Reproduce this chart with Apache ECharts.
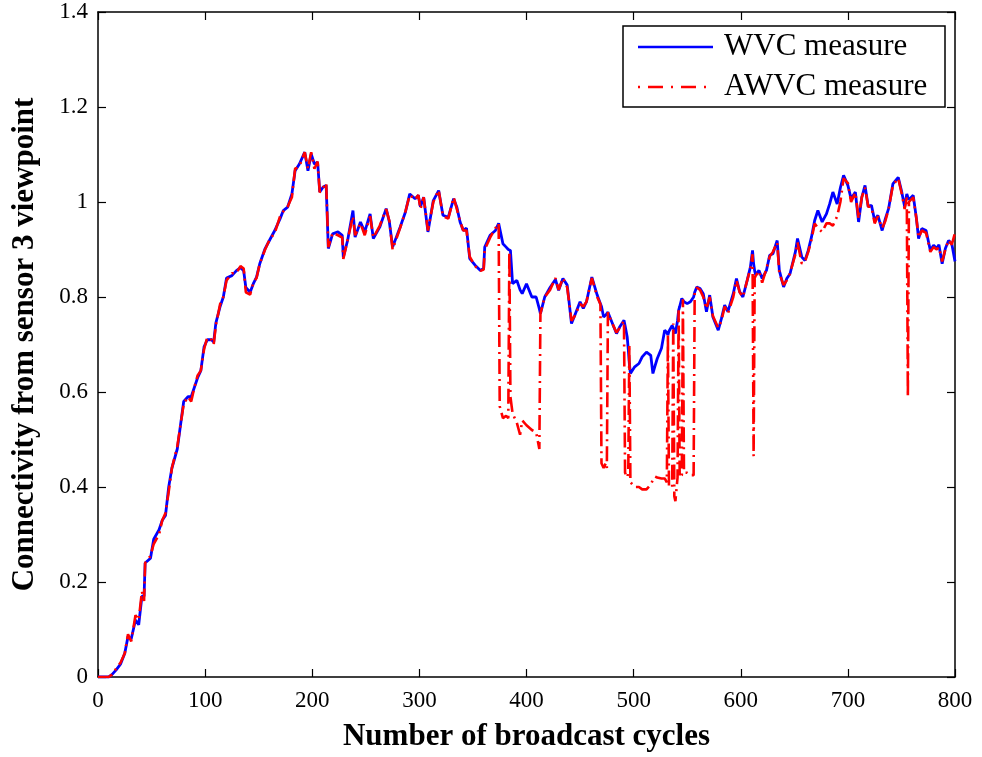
<!DOCTYPE html>
<html>
<head>
<meta charset="utf-8">
<script src="https://cdn.jsdelivr.net/npm/echarts@6/dist/echarts.min.js"></script>
<style>
  html, body { margin: 0; padding: 0; background: #fff; }
  #chart { width: 982px; height: 757px; }
</style>
</head>
<body>
<div id="chart"></div>
<script>
// broadcast cycle positions shared by both curves
const cycles = [
  0, 5, 10, 13, 17, 21, 25, 28, 31, 35, 38, 41, 43, 44, 49, 52, 57, 60, 63, 66,
  69, 74, 77, 80, 84, 87, 90, 93, 96, 99, 102, 106, 108, 110, 114, 117, 120, 125, 129, 133,
  136, 138, 142, 145, 148, 151, 156, 160, 165, 170, 173, 177, 181, 184, 188, 193, 196, 199, 202, 205,
  207, 210, 213, 215, 219, 224, 228, 229, 233, 238, 240, 245, 249, 254, 257, 263, 269, 272, 275, 282,
  287, 291, 296, 299, 301, 304, 308, 313, 318, 322, 327, 332, 335, 338, 341, 344, 347, 352, 357, 360,
  361, 366, 371, 374, 375, 378, 381, 383, 384, 385, 387, 391, 394, 396, 400, 405, 409, 412, 413, 417,
  422, 427, 430, 434, 438, 442, 445, 450, 453, 456, 461, 466, 469, 470, 472, 474, 475, 476, 479, 484,
  487, 491, 492, 494, 495, 496, 497, 501, 505, 508, 512, 516, 518, 520, 522, 526, 529, 531, 532, 533,
  536, 537, 538, 539, 541, 542, 543, 545, 546, 547, 550, 553, 556, 557, 559, 562, 565, 568, 571, 574,
  579, 582, 585, 588, 593, 596, 599, 602, 606, 609, 611, 612, 613, 614, 617, 620, 624, 627, 630, 634,
  636, 640, 643, 646, 651, 653, 657, 660, 663, 666, 669, 672, 676, 680, 683, 686, 690, 693, 696, 700,
  703, 707, 710, 713, 716, 719, 722, 725, 728, 732, 735, 738, 742, 747, 750, 753, 755, 756, 757, 758,
  761, 764, 766, 769, 773, 777, 780, 783, 785, 788, 791, 794, 797, 800
];

const wvc = [
  0, 0, 0, 0.005, 0.015, 0.027, 0.05, 0.085, 0.08, 0.12, 0.11, 0.17, 0.17, 0.24, 0.25, 0.29, 0.31, 0.33, 0.34, 0.40,
  0.44, 0.48, 0.53, 0.58, 0.59, 0.59, 0.61, 0.63, 0.645, 0.695, 0.71, 0.71, 0.705, 0.745, 0.78, 0.80, 0.84, 0.845, 0.855, 0.862,
  0.855, 0.82, 0.81, 0.828, 0.842, 0.87, 0.902, 0.919, 0.94, 0.965, 0.982, 0.989, 1.017, 1.066, 1.08, 1.105, 1.066, 1.101, 1.08, 1.084,
  1.021, 1.031, 1.035, 0.902, 0.933, 0.937, 0.93, 0.884, 0.919, 0.982, 0.926, 0.958, 0.937, 0.975, 0.923, 0.947, 0.986, 0.958, 0.905, 0.947,
  0.979, 1.017, 1.007, 1.014, 0.99, 1.01, 0.937, 1.003, 1.024, 0.972, 0.968, 1.007, 0.989, 0.958, 0.94, 0.945, 0.881, 0.867, 0.856, 0.86,
  0.905, 0.93, 0.94, 0.955, 0.958, 0.912, 0.905, 0.90, 0.898, 0.898, 0.828, 0.835, 0.815, 0.807, 0.828, 0.80, 0.80, 0.775, 0.765, 0.80,
  0.82, 0.837, 0.814, 0.839, 0.825, 0.744, 0.761, 0.79, 0.776, 0.79, 0.842, 0.804, 0.786, 0.78, 0.758, 0.762, 0.765, 0.768, 0.751, 0.723,
  0.737, 0.751, 0.74, 0.716, 0.69, 0.66, 0.639, 0.653, 0.66, 0.674, 0.684, 0.677, 0.639, 0.655, 0.67, 0.692, 0.73, 0.725, 0.72, 0.728,
  0.74, 0.744, 0.73, 0.723, 0.75, 0.772, 0.78, 0.797, 0.795, 0.79, 0.786, 0.79, 0.80, 0.81, 0.821, 0.818, 0.807, 0.769, 0.804, 0.758,
  0.73, 0.755, 0.783, 0.769, 0.807, 0.839, 0.811, 0.80, 0.835, 0.863, 0.898, 0.87, 0.855, 0.846, 0.856, 0.839, 0.856, 0.888, 0.891, 0.919,
  0.856, 0.821, 0.839, 0.849, 0.895, 0.923, 0.884, 0.877, 0.898, 0.926, 0.961, 0.982, 0.958, 0.975, 0.996, 1.021, 0.996, 1.03, 1.056, 1.035,
  1.007, 1.021, 0.958, 1.01, 1.035, 0.99, 0.993, 0.961, 0.972, 0.94, 0.965, 0.986, 1.038, 1.052, 1.024, 0.99, 1.017, 1.01, 1.005, 1.003,
  1.014, 0.965, 0.923, 0.944, 0.94, 0.898, 0.909, 0.902, 0.91, 0.87, 0.902, 0.919, 0.912, 0.875
];

const awvc = [
  0, 0, 0, 0.005, 0.018, 0.03, 0.05, 0.09, 0.075, 0.13, 0.12, 0.18, 0.16, 0.24, 0.255, 0.28, 0.30, 0.33, 0.345, 0.39,
  0.44, 0.485, 0.53, 0.575, 0.59, 0.58, 0.61, 0.635, 0.645, 0.69, 0.715, 0.71, 0.70, 0.74, 0.785, 0.80, 0.835, 0.85, 0.85, 0.865,
  0.86, 0.81, 0.805, 0.83, 0.84, 0.87, 0.90, 0.92, 0.935, 0.97, 0.98, 0.99, 1.01, 1.07, 1.075, 1.105, 1.07, 1.105, 1.07, 1.085,
  1.02, 1.03, 1.04, 0.905, 0.935, 0.93, 0.925, 0.88, 0.92, 0.97, 0.93, 0.955, 0.93, 0.97, 0.925, 0.95, 0.985, 0.96, 0.90, 0.945,
  0.98, 1.015, 1.005, 1.015, 0.985, 1.01, 0.94, 1.00, 1.025, 0.97, 0.965, 1.01, 0.985, 0.96, 0.94, 0.94, 0.885, 0.865, 0.855, 0.858,
  0.90, 0.925, 0.945, 0.955, 0.57, 0.545, 0.55, 0.545, 0.895, 0.59, 0.555, 0.535, 0.51, 0.54, 0.53, 0.52, 0.515, 0.48, 0.765, 0.80,
  0.815, 0.84, 0.815, 0.84, 0.82, 0.75, 0.76, 0.785, 0.78, 0.79, 0.84, 0.80, 0.785, 0.45, 0.44, 0.45, 0.44, 0.768, 0.75, 0.725,
  0.735, 0.75, 0.43, 0.42, 0.43, 0.70, 0.41, 0.40, 0.40, 0.395, 0.395, 0.405, 0.415, 0.422, 0.42, 0.418, 0.418, 0.41, 0.72, 0.40,
  0.40, 0.744, 0.38, 0.37, 0.42, 0.772, 0.42, 0.425, 0.795, 0.43, 0.43, 0.425, 0.425, 0.81, 0.82, 0.815, 0.80, 0.775, 0.80, 0.76,
  0.735, 0.75, 0.78, 0.765, 0.80, 0.835, 0.81, 0.80, 0.835, 0.86, 0.89, 0.465, 0.84, 0.845, 0.855, 0.83, 0.86, 0.885, 0.895, 0.915,
  0.85, 0.825, 0.835, 0.85, 0.89, 0.915, 0.87, 0.875, 0.895, 0.92, 0.955, 0.945, 0.937, 0.955, 0.955, 0.95, 0.97, 1.0, 1.05, 1.04,
  1.0, 1.02, 0.965, 1.01, 1.03, 0.99, 0.99, 0.955, 0.97, 0.945, 0.96, 0.985, 1.035, 1.05, 1.02, 0.985, 1.01, 0.59, 1.0, 1.0,
  1.01, 0.965, 0.925, 0.94, 0.935, 0.895, 0.905, 0.9, 0.905, 0.875, 0.90, 0.92, 0.91, 0.935
];

const xTicks = { min: 0, max: 800, step: 100 };
const yTicks = { min: 0, max: 1.4, step: 0.2 };
const legendNames = ['WVC measure', 'AWVC measure'];

const serif = 'Liberation Serif';
const blue = '#0000ff';
const red = '#ff0000';
const redDash = [15, 5, 2, 5];
const chart = echarts.init(document.getElementById('chart'));

const frameAxis = {
  axisLine: { show: true, onZero: false, lineStyle: { color: '#000', width: 1.5 } },
  axisTick: { show: true, inside: true, length: 8, lineStyle: { color: '#000', width: 1.2 } },
  splitLine: { show: false }
};

// legend box drawn by hand so it sits exactly like the original
const legendBox = { left: 623, top: 26, width: 322, height: 81 };
const legendGraphic = [
  {
    type: 'rect',
    shape: { x: legendBox.left, y: legendBox.top, width: legendBox.width, height: legendBox.height },
    style: { fill: '#fff', stroke: '#000', lineWidth: 1.5 },
    z: 10
  },
  {
    type: 'line',
    shape: { x1: 638, y1: 47, x2: 713, y2: 47 },
    style: { stroke: blue, lineWidth: 2.5 },
    z: 11
  },
  {
    type: 'line',
    shape: { x1: 638, y1: 87, x2: 713, y2: 87 },
    style: { stroke: red, lineWidth: 2.5, lineDash: [2, 8, 15, 8] },
    z: 11
  },
  {
    type: 'text',
    x: 724, y: 47,
    style: { text: legendNames[0], font: '31px "Liberation Serif"', fill: '#000', verticalAlign: 'middle' },
    z: 11
  },
  {
    type: 'text',
    x: 724, y: 87,
    style: { text: legendNames[1], font: '31px "Liberation Serif"', fill: '#000', verticalAlign: 'middle' },
    z: 11
  }
];

chart.setOption({
  backgroundColor: '#fff',
  animation: false,
  grid: { left: 98, right: 27, top: 12, bottom: 80 },
  xAxis: [
    Object.assign({
      type: 'value',
      min: xTicks.min,
      max: xTicks.max,
      interval: xTicks.step,
      name: 'Number of broadcast cycles',
      nameLocation: 'middle',
      nameGap: 44,
      nameTextStyle: { fontFamily: serif, fontSize: 31, fontWeight: 'bold', color: '#000' },
      axisLabel: { fontFamily: serif, fontSize: 23, color: '#000', margin: 12 }
    }, frameAxis),
    Object.assign({
      type: 'value',
      position: 'top',
      min: xTicks.min,
      max: xTicks.max,
      interval: xTicks.step,
      axisLabel: { show: false }
    }, frameAxis)
  ],
  yAxis: [
    Object.assign({
      type: 'value',
      min: yTicks.min,
      max: yTicks.max,
      interval: yTicks.step,
      name: 'Connectivity from sensor 3 viewpoint',
      nameLocation: 'middle',
      nameGap: 58,
      nameTextStyle: { fontFamily: serif, fontSize: 31, fontWeight: 'bold', color: '#000' },
      axisLabel: { fontFamily: serif, fontSize: 23, color: '#000', margin: 10 }
    }, frameAxis),
    Object.assign({
      type: 'value',
      position: 'right',
      min: yTicks.min,
      max: yTicks.max,
      interval: yTicks.step,
      axisLabel: { show: false }
    }, frameAxis)
  ],
  graphic: legendGraphic,
  series: [
    {
      name: legendNames[0],
      type: 'line',
      data: cycles.map((c, i) => [c, wvc[i]]),
      showSymbol: false,
      symbol: 'none',
      lineStyle: { color: blue, width: 2.8 },
      itemStyle: { color: blue },
      z: 2
    },
    {
      name: legendNames[1],
      type: 'line',
      data: cycles.map((c, i) => [c, awvc[i]]),
      showSymbol: false,
      symbol: 'none',
      lineStyle: { color: red, width: 2.6, type: redDash },
      itemStyle: { color: red },
      z: 3
    }
  ]
});
</script>
</body>
</html>
